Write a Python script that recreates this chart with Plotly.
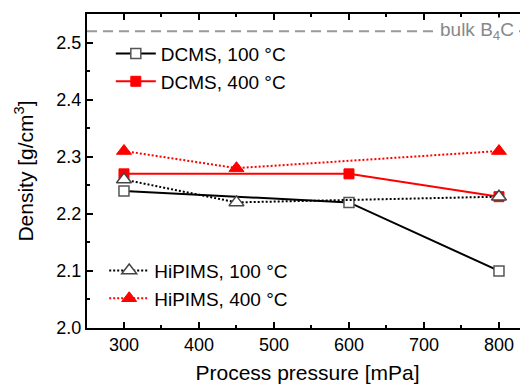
import plotly.graph_objects as go

# data
dcms_x = [300, 600, 800]
dcms_100 = [2.24, 2.22, 2.10]
dcms_400 = [2.27, 2.27, 2.23]
hipims_x = [300, 450, 800]
hipims_100 = [2.26, 2.22, 2.23]
hipims_400 = [2.31, 2.28, 2.31]
bulk_density = 2.52
bulk_label = "bulk B<sub>4</sub>C"

FONT = "Arial, Liberation Sans, sans-serif"
RED = "#ff0000"

fig = go.Figure()

fig.add_trace(go.Scatter(
    x=dcms_x, y=dcms_100, mode="lines+markers", name="DCMS, 100 °C",
    line=dict(color="black", width=2),
    marker=dict(symbol="square", size=10, color="white", line=dict(color="#555555", width=1.5)),
    legend="legend"))
fig.add_trace(go.Scatter(
    x=dcms_x, y=dcms_400, mode="lines+markers", name="DCMS, 400 °C",
    line=dict(color=RED, width=2),
    marker=dict(symbol="square", size=10, color=RED, line=dict(color=RED, width=1)),
    legend="legend"))
fig.add_trace(go.Scatter(
    x=hipims_x, y=hipims_100, mode="lines+markers", name="HiPIMS, 100 °C",
    line=dict(color="black", width=2, dash="2px,2px"),
    marker=dict(symbol="triangle-up", size=13, color="white", line=dict(color="#444444", width=1.5)),
    legend="legend2"))
fig.add_trace(go.Scatter(
    x=hipims_x, y=hipims_400, mode="lines+markers", name="HiPIMS, 400 °C",
    line=dict(color=RED, width=2, dash="2px,2px"),
    marker=dict(symbol="triangle-up", size=13, color=RED, line=dict(color=RED, width=1)),
    legend="legend2"))

fig.add_shape(type="line", xref="paper", x0=0, x1=1, yref="y", y0=bulk_density, y1=bulk_density,
              line=dict(color="#999999", width=2, dash="10px,6px"), layer="below")
fig.add_annotation(x=823, y=bulk_density, xref="x", yref="y", text=bulk_label, showarrow=False,
                   font=dict(family=FONT, size=19, color="#888888"), bgcolor="white",
                   xanchor="right", yanchor="middle", borderpad=1)

axis_common = dict(
    showgrid=False, zeroline=False, showline=True, linecolor="black", linewidth=2,
    ticks="inside", ticklen=6, tickwidth=2, tickcolor="black",
    tickfont=dict(family=FONT, size=18, color="black"),
)

fig.update_layout(
    width=528, height=385,
    margin=dict(l=79, r=8, t=4, b=65),
    plot_bgcolor="white", paper_bgcolor="white",
    font=dict(family=FONT, color="black"),
    xaxis=dict(**axis_common, range=[250.7, 838.7], dtick=100, mirror="ticks",
               ticklabelstandoff=-1,
               minor=dict(ticks="inside", dtick=50, ticklen=3, tickwidth=2, tickcolor="black"),
               title=dict(text="Process pressure [mPa]", font=dict(family=FONT, size=21), standoff=12)),
    yaxis=dict(**axis_common, range=[2.0, 2.55], dtick=0.1, tickformat=".1f", mirror=False,
               minor=dict(ticks="inside", dtick=0.05, ticklen=3, tickwidth=2, tickcolor="black"),
               title=dict(text="Density [g/cm<sup>3</sup>]", font=dict(family=FONT, size=21), standoff=17)),
    legend=dict(x=0.054, y=0.934, xanchor="left", yanchor="top", bgcolor="rgba(0,0,0,0)",
                font=dict(family=FONT, size=19), tracegroupgap=0, itemwidth=40),
    legend2=dict(x=0.039, y=0.243, xanchor="left", yanchor="top", bgcolor="rgba(0,0,0,0)",
                 font=dict(family=FONT, size=19), tracegroupgap=0, itemwidth=40),
    showlegend=True,
)

fig.write_html("out.html")
